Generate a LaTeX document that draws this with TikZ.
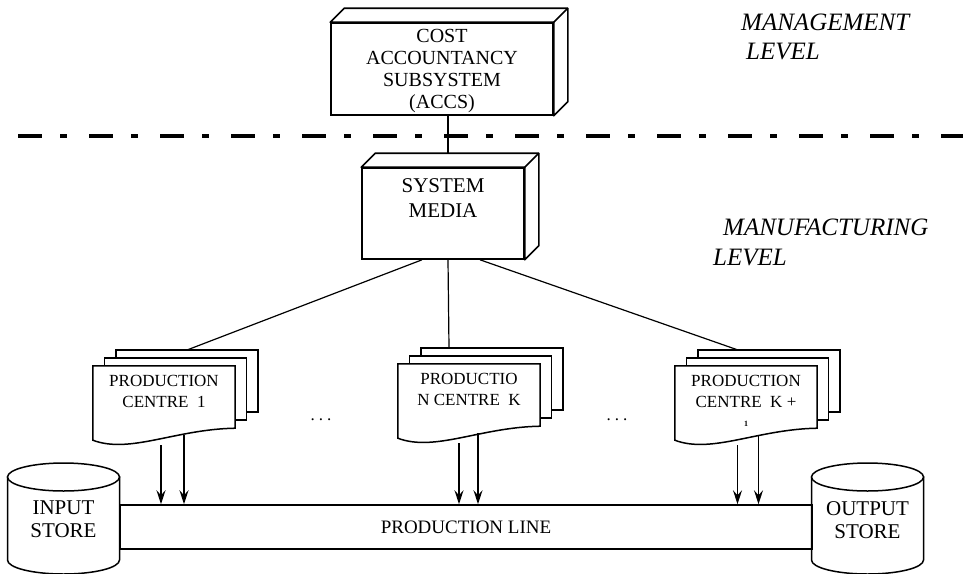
\documentclass[tikz,border=0pt]{standalone}
\usepackage{fontspec}
\setmainfont{Liberation Serif}
\usetikzlibrary{positioning,arrows.meta}
\tikzstyle{diagram} = [x = 1pt, y = -1pt]
\tikzstyle{boxStyle} = [draw, fill=white, line width=1.6pt, inner sep=0pt]
\tikzstyle{boxFace} = [draw, fill=white, line width=1.6pt, line join=round]
\tikzstyle{boxText} = [align=center, inner sep=0pt, anchor=north]
\tikzstyle{pageStyle} = [draw, fill=white, line width=1.5pt]
\tikzstyle{pageNode} = [inner sep=0pt, minimum width=142pt, minimum height=62pt]
\tikzstyle{centreText} = [align=center, inner sep=0pt, anchor=north, font=\fontsize{17}{21}\selectfont]
\tikzstyle{drumStyle} = [draw, fill=white, line width=1.5pt]
\tikzstyle{storeText} = [align=center, inner sep=0pt, anchor=north, font=\fontsize{21}{23}\selectfont]
\tikzstyle{lineBox} = [draw, line width=1.5pt, inner sep=0pt, font=\fontsize{19}{19}\selectfont]
\tikzstyle{linkLine} = [line width=1.2pt]
\tikzstyle{busLine} = [line width=2.4pt]
\tikzstyle{flowArrow} = [line width=1.5pt, -{Stealth[length=14pt, width=9pt, inset=5pt]}]
\tikzstyle{levelText} = [anchor=west, inner sep=0pt, font=\fontsize{25}{25}\selectfont\itshape]
\tikzstyle{levelLine} = [line width=4.5pt, dash pattern=on 24pt off 18pt on 7pt off 22pt]
\tikzstyle{dotsText} = [inner sep=0pt, font=\fontsize{17}{17}\selectfont]
\newcommand{\depth}{14}
\newcommand{\solidBox}[7]{% name, cx, top, width, height, text options, text
  \node [boxStyle, minimum width=#4pt, minimum height=#5pt] (#1) at (#2, #3 + #5 / 2) {};
  \filldraw [boxFace] (#1.north west) -- ++(\depth,-\depth) -| ([shift={(\depth,-\depth)}]#1.south east) -- (#1.south east) -- (#1.north east) -- cycle;
  \draw [boxFace] (#1.north east) -- ++(\depth,-\depth);
  \node [boxText, #6] (#1Text) at (#1.north) {#7};
}
\newcommand{\productionCentre}[4]{% name, left, top, text
  \foreach \page in {2,1} {
    \filldraw [pageStyle] (#2 + 11.5 * \page, #3 - 8 * \page) rectangle +(142, 62);
  }
  \node [pageNode] (#1) at (#2 + 71, #3 + 31) {};
  \filldraw [pageStyle] (#1.south east) -- (#1.north east) -- (#1.north west) -- ([yshift=-12pt]#1.south west) .. controls +(37,14) and +(-60,1) .. (#1.south east) -- cycle;
  \node [centreText] (#1Text) at ([yshift=-9pt]#1.north) {#4};
}
\newcommand{\storeDrum}[4]{% name, cx, top, text
  \filldraw [drumStyle] (#2 - 56, #3) -- (#2 - 56, #3 + 83) arc [start angle=180, end angle=360, x radius=56pt, y radius=14pt] -- (#2 + 56, #3) -- cycle;
  \draw [drumStyle] (#2, #3) ellipse [x radius=56pt, y radius=14pt];
  \node [storeText] (#1) at (#2, #3 + 24) {#4};
}

\begin{document}
\begin{tikzpicture}[diagram]
  \useasboundingbox (0,0) rectangle (963,573);

  % levels
  \draw [levelLine] (18,136) -- (963,136);
  \node [levelText] (mgmt) at (741,22) {MANAGEMENT};
  \node [levelText] (mgmtLevel) at (746,52) {LEVEL};
  \node [levelText] (manu) at (723,227) {MANUFACTURING};
  \node [levelText] (manuLevel) at (713,257) {LEVEL};

  \solidBox{accs}{442}{23}{222}{92}{yshift=-7pt, font=\fontsize{20}{22}\selectfont}{COST\\ACCOUNTANCY\\SUBSYSTEM\\(ACCS)}
  \solidBox{media}{443}{168}{162}{91}{yshift=-11pt, font=\fontsize{21}{25}\selectfont}{SYSTEM\\MEDIA}
  \draw [busLine] ([xshift=6pt]accs.south) -- ([shift={(5,-14)}]media.north);

  \draw [linkLine] ([xshift=-21pt]media.south) -- (187,350);
  \draw [linkLine] ([xshift=5pt]media.south) -- (449,348);
  \draw [linkLine] ([xshift=37pt]media.south) -- (738,350);

  \productionCentre{pc1}{93}{366}{PRODUCTION\\CENTRE\ \ 1}
  \productionCentre{pcK}{398}{364}{PRODUCTIO\\N CENTRE\ \ K}
  \productionCentre{pcL}{675}{366}{PRODUCTION\\CENTRE\ \ K +\\[-2pt]{\fontsize{8}{8}\selectfont\bfseries 1}}
  \node [dotsText] (gapOne) at (321,420) {.\hspace{4pt}.\hspace{4pt}.};
  \node [dotsText] (gapTwo) at (617,420) {.\hspace{4pt}.\hspace{4pt}.};

  \storeDrum{inStore}{63.5}{477}{INPUT\\STORE}
  \storeDrum{outStore}{867.5}{477}{OUTPUT\\STORE}
  \node [lineBox, minimum width=692pt, minimum height=44pt] (pLine) at (466,527) {PRODUCTION LINE};

  \foreach \pc/\first/\second in {pc1/-3/20, pcK/-10/9, pcL/-8.5/12.5} {
    \draw [flowArrow] (\pc.south) ++(\first,17) coordinate (s) -- (s |- pLine.north);
    \draw [flowArrow] (\pc.south) ++(\second,7) coordinate (s) -- (s |- pLine.north);
  }
\end{tikzpicture}
\end{document}
